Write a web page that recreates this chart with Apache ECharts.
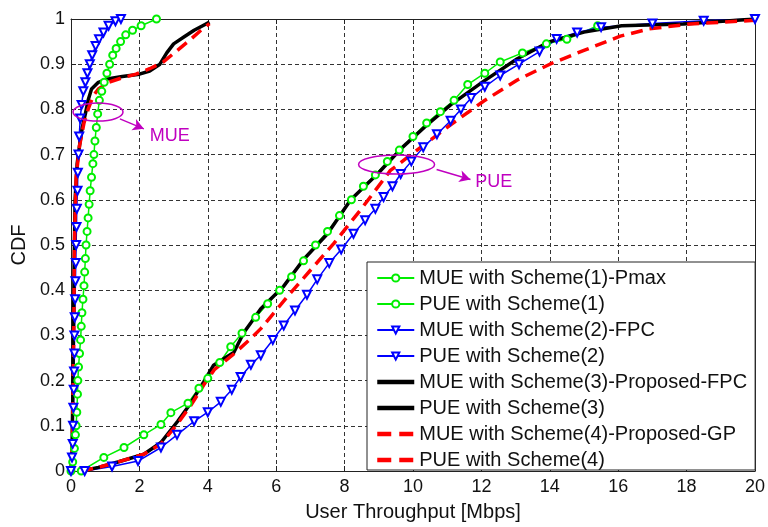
<!DOCTYPE html>
<html>
<head>
<meta charset="utf-8">
<script src="https://cdn.jsdelivr.net/npm/echarts@6/dist/echarts.min.js"></script>
<style>
  html, body { margin: 0; padding: 0; background: #fff; }
  #main { width: 768px; height: 527px; }
</style>
</head>
<body>
<div id="main"></div>
<script>
// x = user throughput [Mbps], y = CDF
var xTicks = [0, 2, 4, 6, 8, 10, 12, 14, 16, 18, 20];
var yTicks = [0, 0.1, 0.2, 0.3, 0.4, 0.5, 0.6, 0.7, 0.8, 0.9, 1];

var seriesNames = [
  "MUE with Scheme(1)-Pmax",
  "PUE with Scheme(1)",
  "MUE with Scheme(2)-FPC",
  "PUE with Scheme(2)",
  "MUE with Scheme(3)-Proposed-FPC",
  "PUE with Scheme(3)",
  "MUE with Scheme(4)-Proposed-GP",
  "PUE with Scheme(4)"
];

var mueScheme1 = [[0,0],[0.05,0.02],[0.1,0.05],[0.13,0.08],[0.15,0.1],[0.17,0.13],[0.19,0.17],[0.2,0.2],[0.22,0.23],[0.25,0.26],[0.28,0.29],[0.3,0.32],[0.32,0.35],[0.35,0.38],[0.38,0.41],[0.4,0.44],[0.42,0.47],[0.44,0.5],[0.47,0.53],[0.5,0.56],[0.53,0.59],[0.56,0.62],[0.6,0.65],[0.64,0.68],[0.67,0.7],[0.7,0.73],[0.74,0.76],[0.78,0.79],[0.83,0.82],[0.9,0.84],[0.97,0.86],[1.05,0.88],[1.13,0.9],[1.22,0.92],[1.32,0.935],[1.45,0.95],[1.6,0.965],[1.8,0.975],[2.05,0.985],[2.5,1.0]];
var pueScheme1 = [[0.3,0],[0.96,0.03],[1.55,0.052],[2.13,0.08],[2.63,0.103],[2.92,0.129],[3.42,0.15],[3.74,0.183],[4.0,0.205],[4.35,0.24],[4.67,0.275],[5.0,0.305],[5.4,0.34],[5.75,0.37],[6.1,0.4],[6.45,0.43],[6.8,0.465],[7.15,0.5],[7.5,0.53],[7.85,0.565],[8.2,0.6],[8.55,0.63],[8.9,0.655],[9.25,0.685],[9.6,0.71],[10.0,0.74],[10.4,0.77],[10.8,0.795],[11.2,0.82],[11.6,0.855],[12.1,0.88],[12.55,0.905],[13.2,0.925],[13.9,0.945],[14.5,0.955],[15.4,0.985]];
var mueScheme2 = [[0,0],[0.03,0.03],[0.05,0.06],[0.06,0.1],[0.07,0.14],[0.08,0.18],[0.09,0.22],[0.1,0.26],[0.1,0.3],[0.11,0.34],[0.12,0.38],[0.13,0.42],[0.14,0.46],[0.15,0.5],[0.16,0.54],[0.17,0.58],[0.19,0.62],[0.2,0.66],[0.22,0.7],[0.24,0.74],[0.27,0.78],[0.31,0.81],[0.36,0.84],[0.42,0.86],[0.48,0.88],[0.55,0.9],[0.62,0.92],[0.72,0.94],[0.82,0.955],[0.95,0.97],[1.1,0.985],[1.3,0.995],[1.46,1.0]];
var pueScheme2 = [[0.4,0],[1.2,0.01],[1.96,0.022],[2.63,0.052],[3.1,0.08],[3.6,0.11],[4.0,0.13],[4.38,0.153],[4.7,0.18],[4.96,0.208],[5.26,0.235],[5.55,0.256],[5.9,0.29],[6.22,0.322],[6.55,0.355],[6.9,0.39],[7.2,0.424],[7.55,0.46],[7.9,0.49],[8.26,0.525],[8.6,0.555],[8.9,0.58],[9.14,0.606],[9.4,0.63],[9.64,0.657],[9.95,0.685],[10.3,0.716],[10.7,0.745],[11.1,0.775],[11.4,0.8],[11.7,0.825],[12.1,0.85],[12.55,0.875],[13.1,0.9],[13.7,0.928],[14.2,0.956],[14.8,0.97],[15.5,0.982],[17,0.99],[18.5,0.996],[20,1.0]];
var mueScheme3 = [[0,0],[0.03,0.05],[0.05,0.15],[0.07,0.3],[0.09,0.45],[0.12,0.6],[0.18,0.68],[0.25,0.72],[0.33,0.76],[0.42,0.79],[0.5,0.82],[0.6,0.845],[0.8,0.86],[1.1,0.868],[1.5,0.873],[2.0,0.878],[2.3,0.885],[2.6,0.9],[2.8,0.925],[3.0,0.945],[3.3,0.96],[3.6,0.975],[3.85,0.985],[4.05,0.993]];
var pueScheme3 = [[0.3,0],[0.8,0.008],[1.37,0.02],[2.13,0.037],[2.63,0.063],[3.12,0.11],[3.5,0.15],[3.88,0.197],[4.17,0.234],[4.5,0.25],[4.76,0.262],[5.05,0.306],[5.26,0.328],[5.55,0.359],[6.22,0.409],[6.8,0.468],[7.5,0.525],[8.18,0.6],[8.96,0.657],[9.69,0.716],[10.4,0.765],[11.1,0.81],[12.06,0.862],[13.05,0.912],[14.0,0.95],[15.0,0.971],[16.1,0.985],[17.9,0.989],[20,1.0]];
var mueScheme4 = [[0,0],[0.05,0.1],[0.08,0.3],[0.1,0.5],[0.15,0.65],[0.25,0.72],[0.38,0.77],[0.5,0.8],[0.65,0.83],[0.8,0.845],[1.1,0.86],[1.5,0.87],[1.9,0.878],[2.3,0.89],[2.7,0.905],[3.1,0.93],[3.5,0.955],[3.8,0.975],[4.05,0.99]];
var pueScheme4 = [[0.3,0],[0.8,0.008],[1.37,0.02],[2.13,0.037],[2.63,0.06],[3.12,0.105],[3.5,0.145],[3.88,0.19],[4.2,0.225],[4.7,0.255],[5.26,0.293],[5.55,0.315],[6.42,0.394],[7.68,0.503],[8.47,0.578],[9.34,0.665],[10.1,0.709],[11.1,0.766],[12.06,0.818],[13.05,0.865],[14.0,0.9],[14.98,0.93],[16.06,0.962],[16.9,0.978],[18.1,0.989],[20,0.997]];

// annotation anchors (data coords): ellipse centre, arrow start, arrow end, label
var mueNote = { center: [0.79, 0.794], from: [1.43, 0.779], to: [2.13, 0.757], label: [2.3, 0.742], text: "MUE" };
var pueNote = { center: [9.52, 0.678], from: [10.69, 0.667], to: [11.68, 0.645], label: [11.82, 0.639], text: "PUE" };

var magenta = "#c000c0";
var font = "Liberation Sans, Arial, sans-serif";

function lineSeries(name, data, color, width, opts) {
  var s = {
    name: name,
    type: "line",
    data: data,
    symbol: "none",
    animation: false,
    lineStyle: { color: color, width: width, type: "solid" },
    itemStyle: { color: color, borderColor: color },
    emphasis: { disabled: true }
  };
  return Object.assign(s, opts || {});
}

var chart = echarts.init(document.getElementById("main"), null, { renderer: "canvas" });

var axisCommon = {
  type: "value",
  axisLine: { show: true, onZero: false, lineStyle: { color: "#222", width: 1 } },
  axisTick: { show: true, inside: true, length: 5, lineStyle: { color: "#222" } }
};

// legend rows: lines only (no marker) for the thick black / red dashed curves
var legendData = seriesNames.map(function (n, i) {
  if (i < 4) return { name: n };
  return {
    name: n,
    itemStyle: { opacity: 0 },
    lineStyle: i < 6 ? { width: 4.5 } : { width: 4.5, type: [14, 8] }
  };
});

var option = {
  backgroundColor: "#fff",
  animation: false,
  grid: { left: 71, right: 11, top: 19, bottom: 51 },
  xAxis: [
    Object.assign({}, axisCommon, {
      min: 0, max: 20, interval: 2,
      name: "User Throughput [Mbps]",
      nameLocation: "middle",
      nameGap: 31,
      nameTextStyle: { fontFamily: font, fontSize: 20, color: "#111" },
      axisLabel: { fontFamily: font, fontSize: 18, color: "#111", margin: 7 },
      splitLine: { show: true, lineStyle: { color: "#333", type: [4, 3], width: 1 } }
    }),
    Object.assign({}, axisCommon, {
      position: "top", min: 0, max: 20, interval: 2,
      axisLabel: { show: false }, splitLine: { show: false }
    })
  ],
  yAxis: [
    Object.assign({}, axisCommon, {
      min: 0, max: 1, interval: 0.1,
      name: "CDF",
      nameLocation: "middle",
      nameGap: 38,
      nameTextStyle: { fontFamily: font, fontSize: 20, color: "#111" },
      axisLabel: { fontFamily: font, fontSize: 18, color: "#111", margin: 6 },
      splitLine: { show: true, lineStyle: { color: "#333", type: [4, 3], width: 1 } }
    }),
    Object.assign({}, axisCommon, {
      position: "right", min: 0, max: 1, interval: 0.1,
      axisLabel: { show: false }, splitLine: { show: false }
    })
  ],
  legend: {
    orient: "vertical",
    left: 367,
    top: 262,
    padding: [6, 8, 0, 8],
    itemWidth: 37,
    itemHeight: 9,
    itemGap: 6,
    backgroundColor: "#fff",
    borderColor: "#222",
    borderWidth: 1,
    borderRadius: 0,
    selectedMode: false,
    textStyle: { fontFamily: font, fontSize: 20, color: "#111", lineHeight: 20 },
    data: legendData
  },
  series: [
    lineSeries(seriesNames[0], mueScheme1, "#00ee00", 1.5, { symbol: "emptyCircle", symbolSize: 7 }),
    lineSeries(seriesNames[1], pueScheme1, "#00ee00", 1.5, { symbol: "emptyCircle", symbolSize: 7 }),
    lineSeries(seriesNames[2], mueScheme2, "#0000ff", 1.5, { symbol: "emptyTriangle", symbolSize: 8, symbolRotate: 180 }),
    lineSeries(seriesNames[3], pueScheme2, "#0000ff", 1.5, { symbol: "emptyTriangle", symbolSize: 8, symbolRotate: 180 }),
    lineSeries(seriesNames[4], mueScheme3, "#000000", 3.5),
    lineSeries(seriesNames[5], pueScheme3, "#000000", 3.5),
    lineSeries(seriesNames[6], mueScheme4, "#ff0000", 3.5, { lineStyle: { color: "#ff0000", width: 3.5, type: [12, 7] } }),
    lineSeries(seriesNames[7], pueScheme4, "#ff0000", 3.5, { lineStyle: { color: "#ff0000", width: 3.5, type: [12, 7] } }),
    {
      name: "notes",
      type: "line",
      data: [],
      silent: true,
      markLine: {
        silent: true,
        animation: false,
        symbol: ["none", "arrow"],
        symbolSize: [9, 11],
        label: { show: false },
        lineStyle: { color: magenta, width: 1.5, type: "solid" },
        data: [
          [{ coord: mueNote.from }, { coord: mueNote.to }],
          [{ coord: pueNote.from }, { coord: pueNote.to }]
        ]
      }
    }
  ]
};

chart.setOption(option);

function drawNotes() {
  var px = function (p) { return chart.convertToPixel({ gridIndex: 0 }, p); };
  var els = [];
  [[mueNote, 25, 9], [pueNote, 38, 9.5]].forEach(function (n) {
    var c = px(n[0].center);
    var l = px(n[0].label);
    els.push({
      type: "ellipse",
      shape: { cx: c[0], cy: c[1], rx: n[1], ry: n[2] },
      style: { fill: "none", stroke: magenta, lineWidth: 1.5 },
      silent: true,
      z: 100
    });
    els.push({
      type: "text",
      x: l[0], y: l[1],
      style: { text: n[0].text, fill: magenta, font: "18px " + font, verticalAlign: "middle" },
      silent: true,
      z: 100
    });
  });
  chart.setOption({ graphic: els });
}
drawNotes();
</script>
</body>
</html>
